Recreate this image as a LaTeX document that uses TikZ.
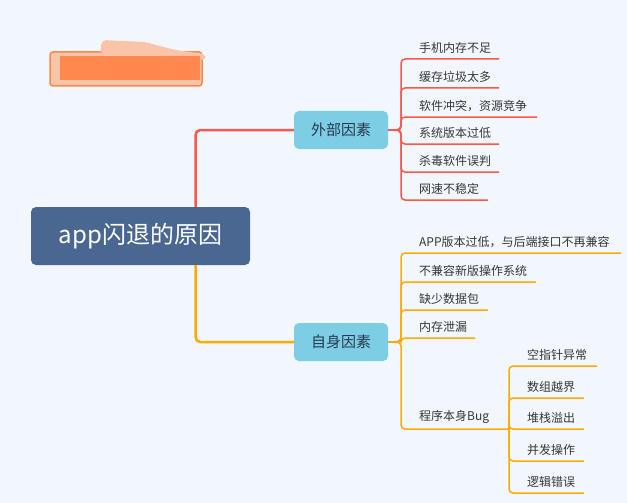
\documentclass[tikz,border=0pt]{standalone}
\usepackage{fontspec}
\setmainfont{Noto Sans CJK SC}
\definecolor{bgblue}{RGB}{241,247,253}
\definecolor{rootblue}{RGB}{74,103,145}
\definecolor{midcyan}{RGB}{125,206,228}
\definecolor{midtext}{RGB}{38,58,80}
\definecolor{leaftext}{RGB}{55,55,55}
\definecolor{linered}{RGB}{250,88,74}
\definecolor{lineorange}{RGB}{255,170,0}
\definecolor{tagorange}{RGB}{255,137,76}
\definecolor{tagpeach}{RGB}{249,196,168}
\tikzset{
  rootbox/.style={fill=rootblue, text=white, rounded corners=5pt, minimum width=219pt,
    minimum height=58pt, font=\fontsize{24}{28}\selectfont},
  midbox/.style={fill=midcyan, text=midtext, rounded corners=5pt, minimum width=94pt,
    minimum height=38pt, font=\fontsize{15}{18}\selectfont},
  leaf/.style={anchor=south west, inner xsep=0pt, inner ysep=5pt, text=leaftext,
    font=\fontsize{12}{14}\selectfont},
  redline/.style={draw=linered, line width=1.5pt, rounded corners=4pt},
  orangeline/.style={draw=lineorange, line width=1.5pt, rounded corners=4pt}
}
\begin{document}
\begin{tikzpicture}[x=1pt, y=-1pt]
  \fill[bgblue] (0,0) rectangle (627,503);
  \useasboundingbox (0,0) rectangle (627,503);
  % blurred tag, top left
  \draw[tagorange, fill=tagpeach, line width=1.5pt, rounded corners=3pt] (50,52) rectangle (202,86);
  \fill[tagpeach, rounded corners=4pt] (100,53) -- (102,40) -- (145,42) -- (175,50) -- (205,54) -- (206,60) -- cycle;
  \fill[tagorange] (60,56) rectangle (200,80);

  \node[rootbox] (root) at (140.5,236) {app闪退的原因};
  \node[midbox] (ext) at (341,130) {外部因素};
  \node[midbox] (self) at (341,342) {自身因素};

  \draw[linered, line width=2.5pt, rounded corners=5pt] ([xshift=55pt]root.north) |- (ext.west);
  \draw[lineorange, line width=2.5pt, rounded corners=5pt] ([xshift=55pt]root.south) |- (self.west);

  \foreach \y/\xe/\t [count=\i] in {59/499/手机内存不足, 88/499/缓存垃圾太多,
      117/537/{软件冲突，资源竞争}, 144/499/系统版本过低, 172/499/杀毒软件误判, 200/488/网速不稳定}{
    \node[leaf] (ext\i) at (419,\y) {\t};
    \draw[redline] (ext.east) -- (401,130) |- (ext\i.south west) -- (\xe,\y);
  }

  \foreach \y/\xe/\t [count=\i] in {253/621/{APP版本过低，与后端接口不再兼容}, 282/536/不兼容新版操作系统,
      310/488/缺少数据包, 338/475/内存泄漏}{
    \node[leaf] (self\i) at (419,\y) {\t};
    \draw[orangeline] (self.east) -- (401,342) |- (self\i.south west) -- (\xe,\y);
  }
  \node[leaf] (bug) at (419,429) {程序本身Bug};
  \draw[orangeline] (self.east) -- (401,342) |- (bug.south west) -- (509,429);
  \coordinate (bugend) at (509,429);

  \foreach \y/\xe/\t [count=\i] in {366/597/空指针异常, 398/584/数组越界, 429/584/堆栈溢出,
      461/584/并发操作, 493/584/逻辑错误}{
    \node[leaf] (bug\i) at (527,\y) {\t};
    \draw[orangeline] (bugend) |- (bug\i.south west) -- (\xe,\y);
  }
\end{tikzpicture}
\end{document}
